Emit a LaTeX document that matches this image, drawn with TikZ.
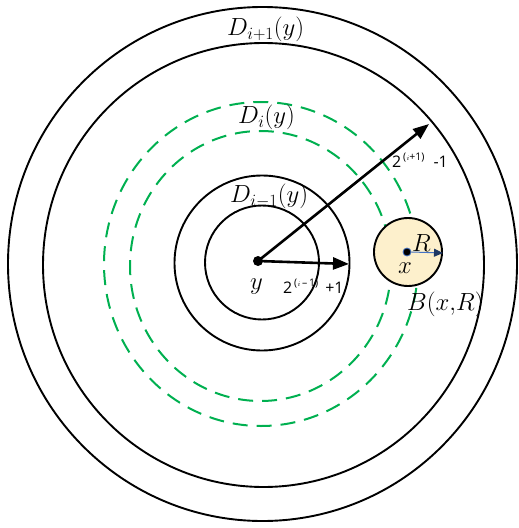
\documentclass[tikz,border=0pt]{standalone}
\usepackage{fontspec}
\newfontfamily\osans{Open Sans}
\usetikzlibrary{arrows.meta}
\definecolor{dgreen}{HTML}{00B050}
\definecolor{cream}{HTML}{FDF0CC}
\definecolor{lblue}{HTML}{4472C4}
\definecolor{navy}{HTML}{1F3864}
\begin{document}
\begin{tikzpicture}[x=1bp,y=-1bp,
  circ/.style={line width=1.9bp},
  gdash/.style={dgreen, line width=2bp, dash pattern=on 15bp off 9bp},
  arr/.style={line width=2.6bp, -{Triangle[length=16bp,width=12bp]}},
  dotnode/.style={circle, fill=black, inner sep=0pt, minimum size=10bp},
  xdot/.style={circle, fill=black, draw=lblue, line width=0.8bp, inner sep=0pt, minimum size=8bp},
  lbl/.style={font=\fontsize{24}{28}\selectfont, inner sep=0pt, anchor=base west},
  slbl/.style={font=\osans\fontsize{16}{18}\selectfont, inner sep=0pt, anchor=base west}]
\useasboundingbox (0,0) rectangle (519,528);
% circles
\draw[circ] (262.5,264) ellipse [x radius=254.5, y radius=257];
\draw[circ] (263.5,265) ellipse [x radius=220.5, y radius=222];
\draw[gdash] (261,264) ellipse [x radius=157, y radius=162];
\draw[gdash] (260.5,266) ellipse [x radius=130.5, y radius=135];
\draw[circ] (262,263) circle [radius=87.5];
\draw[circ] (262,262.5) circle [radius=57];
% ball B(x,R)
\draw[circ, fill=cream] (408,252) circle [radius=34];
% centre y
\node[dotnode] (y) at (258,261) {};
\coordinate (a1) at (429,124);
\coordinate (a2) at (349,264);
\draw[arr] (y.center) -- (a1);
\draw[arr] (y.center) -- (a2);
% centre x
\node[xdot] (x) at (407,252) {};
\coordinate (rr) at (443,253);
\draw[lblue, line width=1bp, -{Triangle[length=9bp,width=8bp,color=navy]}] (x.east) -- (rr);
% labels
\node[lbl] (l1) at (227,36) {$D_{i+1}(y)$};
\node[lbl] (l2) at (238,124) {$D_{i}(y)$};
\node[lbl] (l3) at (230,203) {$D_{i-1}(y)$};
\node[lbl, font=\fontsize{27}{31}\selectfont] (ly) at (250,289) {$y$};
\node[lbl] (lR) at (412,251) {$R$};
\node[lbl] (lx) at (398,273) {$x$};
\node[lbl, font=\fontsize{23.5}{27}\selectfont] (lB) at (407,310) {$B(x{,}R)$};
\node[slbl] (s1) at (392,168) {2\raisebox{7bp}{\fontsize{10.5}{12}\selectfont\,(\kern0.5bp$\scriptstyle i$+1)}\hspace{9bp}-1};
\node[slbl] (s2) at (283,293) {2\raisebox{7bp}{\fontsize{10.5}{12}\selectfont\,(\kern0.5bp$\scriptstyle i$\,–\,1)}\hspace{7bp}+1};
\end{tikzpicture}
\end{document}
